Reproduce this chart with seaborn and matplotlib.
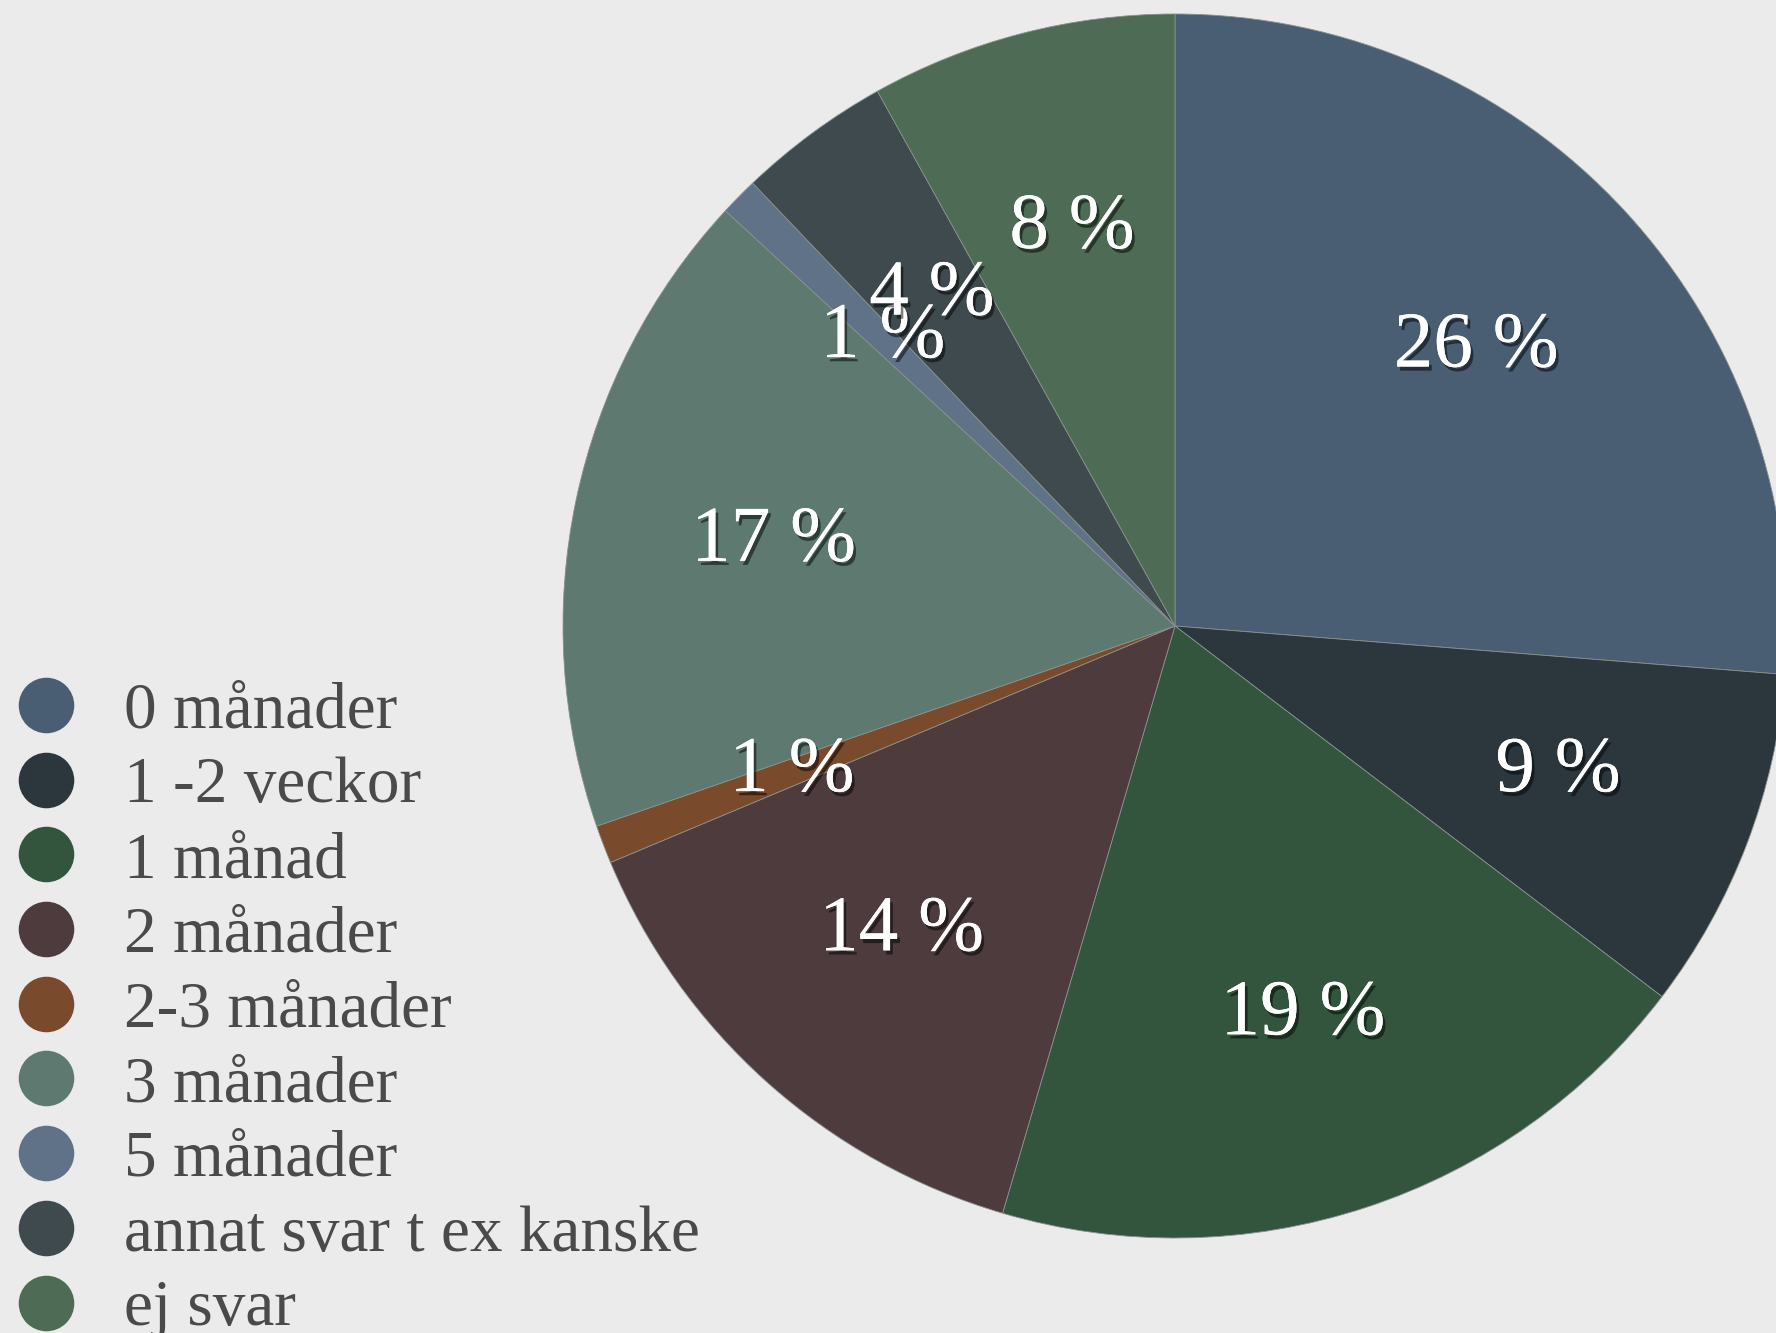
"""Tårtdiagram: svarsfördelning per kategori, med legend till vänster."""
import matplotlib

matplotlib.use("Agg")

import matplotlib.pyplot as plt
import matplotlib.patheffects as pe
from matplotlib.lines import Line2D
import seaborn as sns

categories = [
    "0 månader",
    "1 -2 veckor",
    "1 månad",
    "2 månader",
    "2-3 månader",
    "3 månader",
    "5 månader",
    "annat svar t ex kanske",
    "ej svar",
]
shares = [26, 9, 19, 14, 1, 17, 1, 4, 8]
colors = [
    "#4a5e73",
    "#2b373d",
    "#33553d",
    "#4d3b3e",
    "#7a4a2c",
    "#5e7a70",
    "#5f7287",
    "#3f4a4e",
    "#4d6b55",
]

sns.set_theme(style="white")
plt.rcParams["font.family"] = ["Liberation Serif", "DejaVu Serif"]

bg = "#ebebeb"
fig = plt.figure(figsize=(17.76, 13.33), dpi=100, facecolor=bg)

# pie axes: square box in pixels, centre ~ (1175, 626), radius ~612
W, H = 1776, 1333
cx, cy, r = 1175, 626, 612
ax = fig.add_axes([(cx - r) / W, (H - cy - r) / H, 2 * r / W, 2 * r / H])
ax.set_facecolor("none")

palette = sns.color_palette(colors)
wedges, texts, autotexts = ax.pie(
    shares,
    colors=palette,
    startangle=90,
    counterclock=False,
    autopct=lambda p: f"{p:.0f} %",
    pctdistance=0.67,
    radius=1.0,
    wedgeprops=dict(linewidth=0.6, edgecolor="#8a9090"),
    textprops=dict(color="white", fontsize=57),
)
shadow = [pe.withSimplePatchShadow(offset=(2, -3), shadow_rgbFace="black", alpha=0.5), pe.Normal()]
for t in autotexts:
    t.set_path_effects(shadow)
ax.set_xlim(-1, 1)
ax.set_ylim(-1, 1)
ax.set_aspect("equal")
ax.axis("off")

handles = [
    Line2D([], [], linestyle="none", marker="o", markersize=40, markerfacecolor=c, markeredgewidth=0)
    for c in palette
]
leg = fig.legend(
    handles,
    categories,
    loc="upper left",
    bbox_to_anchor=(13 / W, 1 - 682 / H),
    frameon=False,
    fontsize=47,
    labelspacing=0.23,
    handlelength=1.0,
    handletextpad=0.7,
    borderpad=0.0,
    borderaxespad=0.0,
)
for t in leg.get_texts():
    t.set_color("#4a4a4a")

fig.savefig("out.png", dpi=100, facecolor=bg)
plt.close(fig)
